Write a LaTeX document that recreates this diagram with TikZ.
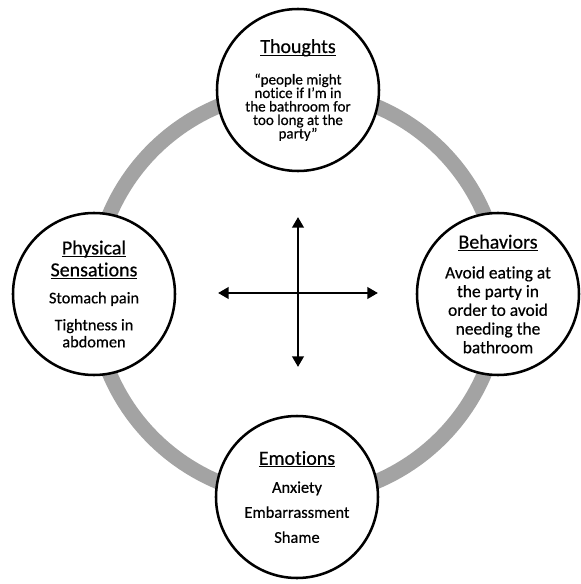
\documentclass[tikz,border=0pt]{standalone}
\usepackage{fontspec}
\setmainfont{Carlito}[Ligatures=NoCommon, FakeBold=0.5]
\usetikzlibrary{arrows.meta}
\definecolor{ringgray}{RGB}{163,163,163}

\newcommand{\heading}[1]{{\fontsize{14.2}{17}\selectfont\underline{\raisebox{0pt}[\height][0pt]{#1}}}}

\begin{document}
\begin{tikzpicture}[
  >=Latex,
  stage/.style={circle, draw, line width=1.8pt, fill=white,
    minimum size=4.05cm, inner sep=-2pt, align=center},
  cross/.style={<->, line width=2pt, >={Triangle[length=7.5pt,width=8pt]}}
]
\useasboundingbox (-7.425,-7.25) rectangle (7.1,7.35);

% --- Grey ring behind the four circles ---
\draw[ringgray, line width=10.7pt] (0,0) circle (5.09);

% --- Circles ---

% Top
\node[stage, font=\fontsize{10.7}{9.6}\selectfont] (thoughts) at (0.025,5.1)
  {\heading{Thoughts}\\[11.7pt]
   “people might\\ notice if I’m in\\ the bathroom for\\ too long at the\\ party”};

% Left
\node[stage, font=\fontsize{11.6}{12.1}\selectfont] (physical) at (-5.075,0)
  {\heading{Physical}\\[3.5pt] \heading{Sensations}\\[7.1pt]
   Stomach pain\\[7.1pt]
   Tightness in\\ abdomen};

% Right
\node[stage, font=\fontsize{12.4}{13.3}\selectfont] (behaviors) at (5.025,0)
  {\heading{Behaviors}\\[8pt]
   Avoid eating at\\ the party in\\ order to avoid\\ needing the\\ bathroom};

% Bottom
\node[stage, font=\fontsize{11.7}{17.8}\selectfont] (emotions) at (0,-5.075)
  {\heading{Emotions}\\[2.1pt]
   Anxiety\\ Embarrassment\\ Shame};

% --- Arrow cross in the middle ---
\coordinate (crossW) at (-1.975,0.025);
\coordinate (crossE) at (2.025,0.025);
\coordinate (crossN) at (0.025,1.925);
\coordinate (crossS) at (0.025,-1.825);

\draw[cross] (crossW) -- (crossE);
\draw[cross] (crossN) -- (crossS);

\end{tikzpicture}
\end{document}
